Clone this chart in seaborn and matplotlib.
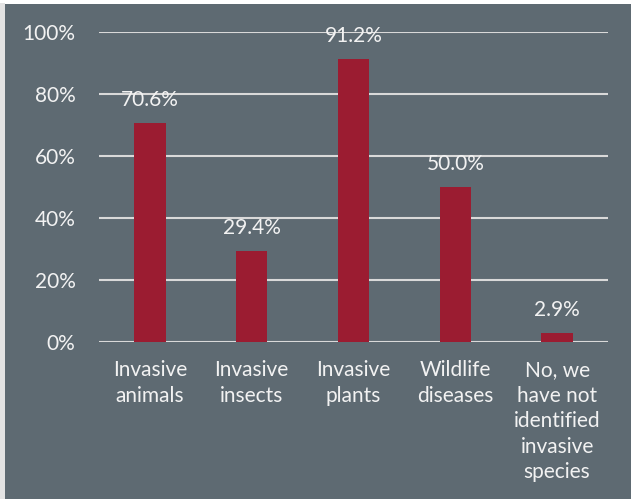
import matplotlib
matplotlib.use("Agg")
import matplotlib.pyplot as plt
import seaborn as sns
import pandas as pd
from matplotlib.patches import Rectangle
from matplotlib.ticker import FixedLocator

categories = [
    "Invasive\nanimals",
    "Invasive\ninsects",
    "Invasive\nplants",
    "Wildlife\ndiseases",
    "No, we\nhave not\nidentified\ninvasive\nspecies",
]
values = [70.6, 29.4, 91.2, 50.0, 2.9]
y_ticks = [0, 20, 40, 60, 80, 100]

PANEL = "#5E6A72"
BAR = "#9B1C31"
GRID = "#D9D9D9"
TEXT = "#F2F2F2"

sns.set_theme(style="white")
plt.rcParams["font.family"] = ["Lato", "DejaVu Sans"]

W, H = 631, 499
fig = plt.figure(figsize=(W / 100, H / 100), dpi=100, facecolor="white")

# dark panel behind the chart, with a thin light frame on the left
fig.patches.append(Rectangle((0, 0), 5 / W, 1 - 3 / H, transform=fig.transFigure,
                             facecolor="#E3E3E3", edgecolor="none", zorder=-2))
fig.patches.append(Rectangle((5 / W, 0), 1, 1 - 4 / H, transform=fig.transFigure,
                             facecolor=PANEL, edgecolor="none", zorder=-2))

ax = fig.add_axes([99 / W, (H - 342) / H, 509 / W, 310 / H])
ax.set_facecolor("none")

df = pd.DataFrame({"category": categories, "value": values})
sns.barplot(data=df, x="category", y="value", color=BAR, width=0.31,
            saturation=1, linewidth=0, edgecolor="none", ax=ax, zorder=3)

ax.set_ylim(0, 100)
ax.set_xlim(-0.5, len(categories) - 0.5)
ax.yaxis.set_major_locator(FixedLocator(y_ticks))
ax.set_yticklabels([f"{t}%" for t in y_ticks])
ax.yaxis.grid(True, color=GRID, linewidth=1.5, zorder=1)
ax.set_axisbelow(True)
for s in ax.spines.values():
    s.set_visible(False)

ax.tick_params(axis="y", length=0, pad=17, labelsize=15, labelcolor=TEXT)
ax.tick_params(axis="x", length=0, pad=13, labelsize=15, labelcolor=TEXT)
for lab in ax.get_xticklabels():
    lab.set_linespacing(1.35)
    lab.set_verticalalignment("top")
ax.set_xlabel("")
ax.set_ylabel("")

for i, v in enumerate(values):
    ax.annotate(f"{v:.1f}%", xy=(i, v), xytext=(0, 9.5), textcoords="offset points",
                ha="center", va="bottom", fontsize=15, color=TEXT, zorder=4)

fig.savefig("out.png", dpi=100, facecolor="white")
